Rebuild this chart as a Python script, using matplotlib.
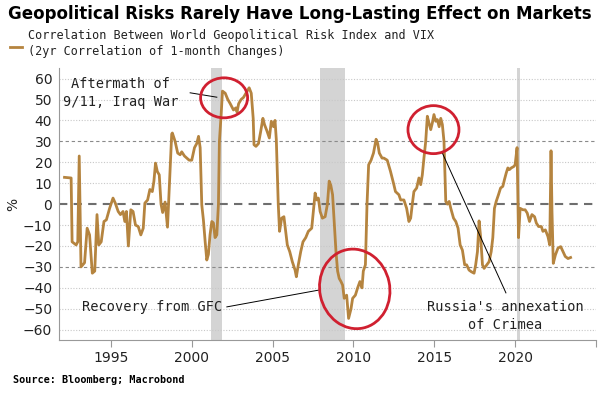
import numpy as np
import matplotlib
matplotlib.use("Agg")
import matplotlib.pyplot as plt
from matplotlib.patches import Ellipse
from matplotlib.transforms import ScaledTranslation

# correlation series (decimal year, %)
years = [1992.13, 1992.54, 1992.6, 1992.85, 1992.95, 1993.04, 1993.15, 1993.26, 1993.37,
         1993.53, 1993.68, 1993.85, 1994.0, 1994.14, 1994.25, 1994.4, 1994.57, 1994.72,
         1994.92, 1995.13, 1995.27, 1995.45, 1995.59, 1995.75, 1995.86, 1995.96, 1996.08,
         1996.23, 1996.37, 1996.52, 1996.69, 1996.85, 1997.0, 1997.1, 1997.27, 1997.41,
         1997.56, 1997.66, 1997.76, 1997.87, 1997.99, 1998.1, 1998.2, 1998.35, 1998.5,
         1998.62, 1998.76, 1998.8, 1998.97, 1999.13, 1999.28, 1999.38, 1999.55, 1999.69,
         1999.84, 2000.0, 2000.17, 2000.31, 2000.42, 2000.52, 2000.62, 2000.72, 2000.83,
         2000.93, 2001.03, 2001.13, 2001.24, 2001.34, 2001.44, 2001.55, 2001.65, 2001.71,
         2001.82, 2001.9, 2002.07, 2002.23, 2002.38, 2002.58, 2002.73, 2002.8, 2002.9,
         2003.05, 2003.2, 2003.35, 2003.55, 2003.68, 2003.8, 2003.85, 2003.97, 2004.13,
         2004.27, 2004.4, 2004.5, 2004.65, 2004.8, 2004.92, 2005.06, 2005.15, 2005.23,
         2005.35, 2005.43, 2005.56, 2005.7, 2005.81, 2005.91, 2006.06, 2006.22, 2006.39,
         2006.47, 2006.59, 2006.74, 2006.88, 2007.05, 2007.21, 2007.42, 2007.56, 2007.63,
         2007.73, 2007.83, 2007.94, 2008.08, 2008.25, 2008.39, 2008.5, 2008.6, 2008.71,
         2008.81, 2008.92, 2009.02, 2009.12, 2009.23, 2009.33, 2009.43, 2009.58, 2009.7,
         2009.85, 2009.95, 2010.12, 2010.26, 2010.4, 2010.53, 2010.61, 2010.74, 2010.84,
         2010.94, 2011.09, 2011.24, 2011.4, 2011.5, 2011.6, 2011.77, 2011.88, 2012.09,
         2012.29, 2012.5, 2012.6, 2012.81, 2012.92, 2013.12, 2013.29, 2013.43, 2013.54,
         2013.64, 2013.74, 2013.91, 2014.05, 2014.16, 2014.26, 2014.36, 2014.47, 2014.57,
         2014.67, 2014.78, 2014.88, 2014.98, 2015.09, 2015.19, 2015.3, 2015.4, 2015.5,
         2015.6, 2015.71, 2015.81, 2015.92, 2016.02, 2016.19, 2016.33, 2016.47, 2016.6,
         2016.74, 2016.88, 2017.0, 2017.15, 2017.29, 2017.46, 2017.56, 2017.67, 2017.77,
         2017.87, 2017.98, 2018.08, 2018.25, 2018.39, 2018.52, 2018.62, 2018.72, 2018.83,
         2018.97, 2019.1, 2019.24, 2019.34, 2019.45, 2019.55, 2019.65, 2019.76, 2019.92,
         2020.0, 2020.12, 2020.21, 2020.31, 2020.48, 2020.62, 2020.75, 2020.89, 2021.04,
         2021.2, 2021.31, 2021.45, 2021.62, 2021.72, 2021.87, 2022.03, 2022.14, 2022.22,
         2022.28, 2022.36, 2022.49, 2022.65, 2022.82, 2022.96, 2023.1, 2023.27, 2023.43]
corr = [12.8, 12.5, -18, -19.5, -18, 23, -30, -29, -28,
        -11.5, -14.7, -33, -32, -5, -19.5, -18, -8.3, -7.5,
        -2, 2.9, 0.5, -3.5, -5, -3.5, -8.3, -3.5, -20,
        -2.7, -3.5, -10, -10.7, -14.7, -11.5, 0.5, 2, 7,
        6, 11, 19.6, 15.6, 14, 0, -4, 1, -11,
        10, 33.5, 34, 30, 24.4, 23.6, 25, 23, 22,
        21, 21, 27, 29, 32.4, 27, -0.3, -7.5, -18,
        -26.7, -24, -14.7, -8.3, -9, -16, -14.7, 0, 30,
        43, 54, 53, 50, 48, 45, 46, 44, 48,
        50, 51, 53, 55.6, 53, 41, 28.4, 27.6, 29,
        35, 41, 38, 35, 31.6, 39.6, 37, 40, 30.8,
        0, -13, -6.7, -6, -13, -19.5, -22.7, -27.5, -31.5,
        -34.7, -29, -22.7, -18, -16, -13, -11.5, 0, 5.3,
        2, 2.9, -3.5, -6.7, -6, 0, 11, 9, 4.5,
        -8.3, -22.7, -32, -35.5, -37, -38.7, -45, -43.5, -54.6,
        -50, -45, -43.5, -40, -37, -40, -32, -29, 0,
        18.8, 21, 24.4, 31, 29, 24.4, 22, 22, 21,
        15.7, 9.3, 6, 4.5, 2, 2, -2, -8.3, -6.7,
        0, 6, 7.7, 12.5, 9.3, 14, 22, 30, 42,
        38.8, 35.6, 38.8, 42.8, 39.6, 40.4, 37, 41, 38,
        30, 1.3, 0, 1.3, -2, -6.7, -8.3, -11.5, -19.5,
        -22, -29, -29, -31.5, -32.3, -33, -29, -22.7, -8,
        -16, -29, -30.7, -29, -27.5, -22.7, -16, -2, 1.3,
        4.5, 7.7, 8.5, 11.7, 14.9, 17.3, 16.5, 17.3, 18,
        18.8, 27, -16, -2, -2.7, -2.7, -4.3, -8.3, -5,
        -6, -9, -10.7, -10.7, -13, -12.3, -15.5, -19.5, 25.5,
        -3.5, -28.3, -24.3, -21, -20.3, -22.7, -25, -26, -25.5]

# shaded recessions (start, end)
rec_start = [2001.2, 2007.96, 2020.12]
rec_end = [2001.85, 2009.45, 2020.3]

ytick_vals = list(range(-60, 61, 10))
xtick_vals = [1995, 2000, 2005, 2010, 2015, 2020, 2025]
xtick_labels = ["1995", "2000", "2005", "2010", "2015", "2020", ""]

line_col = "#b5843f"
red = "#d02030"
mono = "DejaVu Sans Mono"

fig = plt.figure(figsize=(6.1, 3.96), dpi=100)
ax = fig.add_axes([0.097, 0.141, 0.88, 0.687])

for s, e in zip(rec_start, rec_end):
    ax.axvspan(s, e, color="#d4d4d4", lw=0, zorder=0)

for v in ytick_vals:
    if v == 0:
        ax.axhline(v, color="#6e6e6e", lw=1.5, ls=(0, (4, 3)), zorder=1)
    elif abs(v) == 30:
        ax.axhline(v, color="#8a8a8a", lw=0.8, ls=(0, (3, 2.5)), zorder=1)
    else:
        ax.axhline(v, color="#c8c8c8", lw=0.8, ls=(0, (1, 1.5)), zorder=1)

ax.plot(years, corr, color=line_col, lw=2.0, zorder=3)

ax.set_xlim(1991.8, 2025)
ax.set_ylim(-65, 65)
ax.set_yticks(ytick_vals)
ax.set_xticks(xtick_vals)
ax.set_xticklabels(xtick_labels)
ax.tick_params(axis="y", length=0, labelsize=10, colors="#222222", pad=5)
ax.tick_params(axis="x", length=5, width=0.8, color="#999999", labelsize=10,
               labelcolor="#222222", pad=3)
for sp in ["top", "right"]:
    ax.spines[sp].set_visible(False)
for sp in ["left", "bottom"]:
    ax.spines[sp].set_color("#999999")
    ax.spines[sp].set_linewidth(0.8)
ax.set_ylabel("%", fontsize=10, color="#222222")
ax.yaxis.set_label_coords(-0.072, 0.5)


def ring(cx, cy, w, h, ang):
    # ellipse sized in pixels, placed at a data point
    tr = fig.dpi_scale_trans + ScaledTranslation(cx, cy, ax.transData)
    ax.add_patch(Ellipse((0, 0), w / 100, h / 100, angle=ang, transform=tr,
                         fill=False, ec=red, lw=2.0, zorder=5, clip_on=False))


ring(2002.0, 50.8, 47, 40, 0)
ring(2010.08, -40.5, 70, 80, 12)
ring(2014.95, 35.6, 51, 48, 0)

ax.text(1995.62, 53.3, "Aftermath of\n9/11, Iraq War", family=mono, fontsize=9.8,
        ha="center", va="center", color="#222222", linespacing=1.35, zorder=6)
ax.plot([1999.9, 2001.55], [53.2, 51.1], color="black", lw=0.7, zorder=4)

ax.text(1997.52, -49.1, "Recovery from GFC", family=mono, fontsize=9.8,
        ha="center", va="center", color="#222222", zorder=6)
ax.plot([2002.17, 2007.91], [-49.1, -41.0], color="black", lw=0.7, zorder=4)

ax.text(2019.41, -53.3, "Russia's annexation\nof Crimea", family=mono, fontsize=9.8,
        ha="center", va="center", color="#222222", linespacing=1.35, zorder=6)
ax.plot([2015.5, 2019.43], [24.4, -42.4], color="black", lw=0.7, zorder=4)

fig.text(0.013, 0.965, "Geopolitical Risks Rarely Have Long-Lasting Effect on Markets",
         fontsize=12.0, fontweight="bold", ha="left", va="center", color="black")
fig.lines.append(plt.Line2D([10 / 610, 22 / 610], [1 - 47 / 396] * 2,
                            transform=fig.transFigure, color=line_col, lw=2.0))
fig.text(28 / 610, 1 - 35 / 396, "Correlation Between World Geopolitical Risk Index and VIX",
         family=mono, fontsize=8.5, ha="left", va="center", color="#222222")
fig.text(28 / 610, 1 - 52 / 396, "(2yr Correlation of 1-month Changes)",
         family=mono, fontsize=8.5, ha="left", va="center", color="#222222")
fig.text(13 / 610, 1 - 380 / 396, "Source: Bloomberg; Macrobond", family=mono,
         fontsize=7.3, fontweight="bold", ha="left", va="center", color="black")

fig.savefig("out.png", dpi=100)
